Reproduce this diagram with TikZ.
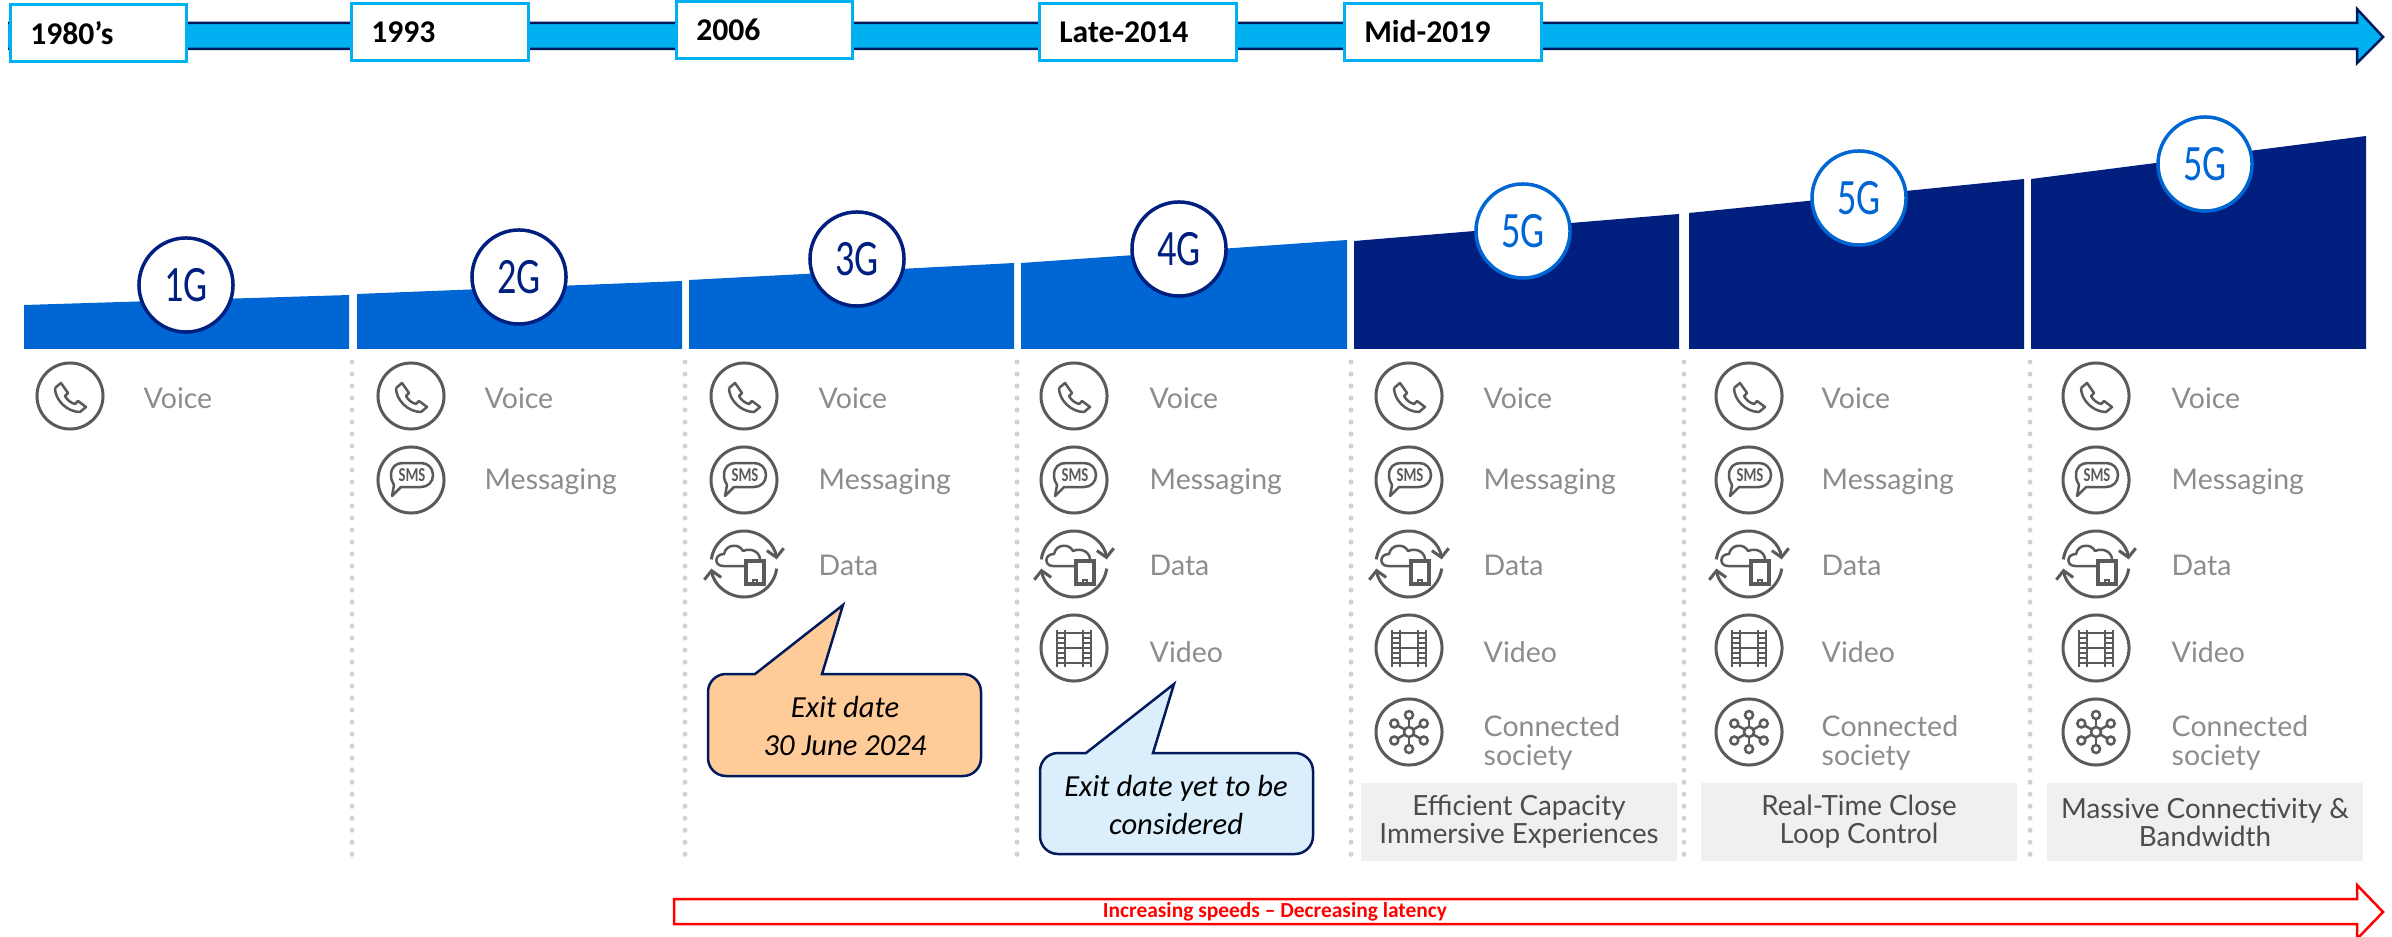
\documentclass[tikz,border=0pt]{standalone}
\usepackage{fontspec}
\usepackage{tikz}
\usetikzlibrary{arrows.meta}
\setmainfont{Carlito}
\newfontfamily\labelfont{Lato}
\newfontfamily\genfont[FakeStretch=0.75]{Carlito}

\definecolor{barblue}{HTML}{0066D3}
\definecolor{barnavy}{HTML}{001F7F}
\definecolor{timecyan}{HTML}{00B0F0}
\definecolor{timenavy}{HTML}{001A5C}
\definecolor{icongrey}{HTML}{5A5A5A}
\definecolor{textgrey}{HTML}{8C8C8C}
\definecolor{calloutorange}{HTML}{FFCC99}
\definecolor{calloutblue}{HTML}{DAEEFC}

\tikzset{
  datebox/.style={draw=timecyan, fill=white, line width=0.025cm, anchor=west,
    minimum height=0.57cm, inner xsep=0.2cm, inner ysep=0pt, align=left,
    font=\fontsize{9}{10}\selectfont\bfseries},
  gencircle/.style={circle, draw, fill=white, line width=0.035cm, minimum size=0.94cm,
    inner sep=0pt, font=\genfont\fontsize{14.5}{15}\selectfont},
  rowlabel/.style={anchor=west, inner sep=0pt, text=textgrey, align=left,
    font=\labelfont\fontsize{8.1}{8}\selectfont},
  capbox/.style={fill=black!6, minimum width=3.16cm, minimum height=0.78cm, inner sep=0pt,
    align=center, text=black!70, font=\labelfont\fontsize{7.9}{8}\selectfont},
  callout/.style={draw=timenavy, line width=0.025cm},
  calloutlabel/.style={inner sep=0pt, align=center, font=\fontsize{8.7}{10.8}\selectfont\itshape},
  iconline/.style={draw=icongrey, line width=0.025cm},
  voiceicon/.pic={
    \draw[iconline, line width=0.03cm] (0,0) circle[radius=0.33cm];
    \draw[iconline, line join=round] (-15,-8) -- (-9,-13) -- (-2,-3) -- (-5,0)
      .. controls (-3,4) and (1,7) .. (5,8) -- (8,5) -- (16,11) -- (10,16)
      .. controls (-3,16) and (-15,4) .. (-15,-8);
  },
  smsicon/.pic={
    \draw[iconline, line width=0.03cm] (0,0) circle[radius=0.33cm];
    \draw[iconline, line join=round] (-10,7) -- (-19,16) -- (-17,5)
      .. controls (-19,2) and (-20,-1) .. (-20,-5)
      .. controls (-20,-13) and (-15,-17) .. (-8,-17) -- (10,-17)
      .. controls (17,-17) and (22,-12) .. (22,-5)
      .. controls (22,2) and (17,7) .. (10,7) -- cycle;
    \node[inner sep=0pt, text=icongrey, font=\genfont\fontsize{5.6}{6}\selectfont\bfseries] (-smstext) at (1,-5) {SMS};
  },
  dataicon/.pic={
    \draw[iconline, line width=0.03cm, -{Straight Barb[length=0.08cm,width=0.17cm]}]
      (172:0.33cm) arc[start angle=172, end angle=8, radius=0.33cm];
    \draw[iconline, line width=0.03cm, -{Straight Barb[length=0.08cm,width=0.17cm]}]
      (-8:0.33cm) arc[start angle=-8, end angle=-172, radius=0.33cm];
    \draw[iconline, line join=round] (2,2) -- (-21,2)
      .. controls (-30,2) and (-30,-10) .. (-20,-10)
      .. controls (-18,-20) and (-5,-21) .. (-1,-13)
      .. controls (8,-17) and (17,-11) .. (16,-3);
    \draw[iconline, line width=0.035cm, fill=white] (2,-3) rectangle (20,20);
    \draw[iconline] (9,20) -- (9,16) -- (13,16) -- (13,20);
  },
  filmicon/.pic={
    \draw[iconline, line width=0.03cm] (0,0) circle[radius=0.33cm];
    \draw[iconline] (-17,-18) -- (-17,19) (-9,-18) -- (-9,19) (9,-18) -- (9,19) (17,-18) -- (17,19)
      (-9,-15) -- (9,-15) (-9,0) -- (9,0) (-9,15) -- (9,15);
    \foreach \perf in {-15,-10,...,15} {
      \draw[iconline, line width=0.015cm] (-17,\perf) -- (-9,\perf) (9,\perf) -- (17,\perf);
    }
  },
  hubicon/.pic={
    \draw[iconline, line width=0.03cm] (0,0) circle[radius=0.33cm];
    \draw[iconline] (0,0) circle[radius=0.05cm];
    \foreach \spoke in {30,90,...,330} {
      \draw[iconline] (\spoke:0.05cm) -- (\spoke:0.13cm);
      \draw[iconline] (\spoke:0.17cm) circle[radius=0.04cm];
    }
  },
}

\begin{document}
\begin{tikzpicture}[x=0.01cm, y=-0.01cm]
    \useasboundingbox (0, 0) rectangle (2392, 937);

    % time line
    \draw[fill=timecyan, draw=timenavy, line width=0.025cm, line join=miter]
      (8, 23) -- (2357, 23) -- (2357, 9) -- (2383, 37) -- (2357, 63) -- (2357, 49) -- (8, 49);
    \foreach \n/\x/\y/\w/\t in {
      a/9/33/176/{1980’s}, b/350/32/177/1993, c/675/30/176/2006,
      d/1038/32/197/Late-2014, e/1343/32/197/Mid-2019} {
      \node[datebox, minimum width=\w*0.01cm, text width=\w*0.01cm-0.4cm] (date\n) at (\x, \y) {\t};
    }

    % bars
    \foreach \a/\b/\l/\r/\col in {
      24/349/305/295/barblue, 357/682/294/281/barblue, 689/1014/280/263/barblue,
      1021/1347/263/240/barblue, 1354/1679/241/214/barnavy, 1689/2024/213/179/barnavy,
      2031/2366/179/136/barnavy} {
      \fill[\col] (\a, 349) -- (\a, \l) -- (\b, \r) -- (\b, 349) -- cycle;
    }
    \foreach \n/\x/\y/\col/\t in {
      a/186/285/barnavy/1G, b/519/277/barnavy/2G, c/857/259/barnavy/3G, d/1179/249/barnavy/4G,
      e/1523/231/barblue/5G, f/1859/198/barblue/5G, g/2205/164/barblue/5G} {
      \node[gencircle, draw=\col, text=\col] (gen\n) at (\x, \y) {\t};
    }

    % dotted separators
    \foreach \x in {352, 685, 1017, 1351, 1684, 2030} {
      \draw[black!18, line width=0.05cm, line cap=round, dash pattern=on 0pt off 0.12cm] (\x, 362) -- (\x, 860);
    }

    % rows
    \foreach \n/\ix/\tx/\rows in {
      a/70/143/1, b/411/484/2, c/744/818/3, d/1074/1149/4,
      e/1409/1483/5, f/1749/1821/5, g/2096/2171/5} {
      \pic (voice\n) at (\ix, 396) {voiceicon};
      \node[rowlabel] (voicetext\n) at (\tx, 398) {Voice};
      \ifnum\rows>1
        \pic (sms\n) at (\ix, 480) {smsicon};
        \node[rowlabel] (smstext\n) at (\tx, 482) {Messaging};
      \fi
      \ifnum\rows>2
        \pic (data\n) at (\ix, 564) {dataicon};
        \node[rowlabel] (datatext\n) at (\tx, 565) {Data};
      \fi
      \ifnum\rows>3
        \pic (film\n) at (\ix, 648) {filmicon};
        \node[rowlabel] (filmtext\n) at (\tx, 652) {Video};
      \fi
      \ifnum\rows>4
        \pic (hub\n) at (\ix, 732) {hubicon};
        \node[rowlabel] (hubtext\n) at (\tx, 743) {Connected\\society};
      \fi
    }

    % grey captions
    \node[capbox] (cape) at (1519, 822) {Efficient Capacity\\Immersive Experiences};
    \node[capbox] (capf) at (1859, 822) {Real-Time Close\\Loop Control};
    \node[capbox] (capg) at (2205, 822) {Massive Connectivity \&\\Bandwidth};

    % callouts
    \draw[callout, fill=calloutorange] (755, 674) -- (843, 605) -- (822, 674)
      [rounded corners=0.18cm] -- (981, 674) -- (981, 776) -- (708, 776) -- (708, 674) [sharp corners] -- cycle;
    \node[calloutlabel] (exitc) at (845, 726) {Exit date\\30 June 2024};
    \draw[callout, fill=calloutblue] (1086, 753) -- (1174, 684) -- (1153, 753)
      [rounded corners=0.18cm] -- (1313, 753) -- (1313, 854) -- (1040, 854) -- (1040, 753) [sharp corners] -- cycle;
    \node[calloutlabel] (exitd) at (1176, 805) {Exit date yet to be\\considered};

    % speed arrow
    \draw[red, fill=white, line width=0.025cm, line join=miter]
      (674, 899) -- (2357, 899) -- (2357, 885) -- (2383, 912) -- (2357, 939) -- (2357, 924) -- (674, 924) -- cycle;
    \node[inner sep=0pt, text=red, font=\fontsize{6.1}{7}\selectfont\bfseries] (speed) at (1275, 912)
      {Increasing speeds – Decreasing latency};
  \end{tikzpicture}
\end{document}
